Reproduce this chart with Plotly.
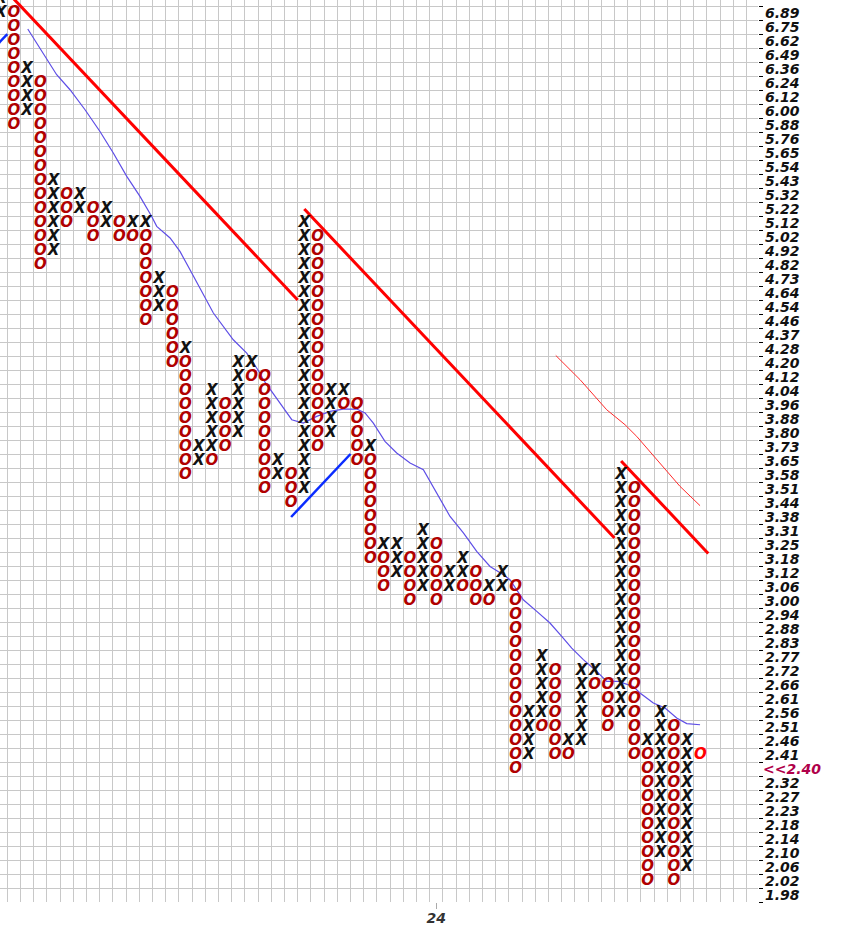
import plotly.graph_objects as go

# ---- price levels (2% boxes), level index 0 = 1.98 ----
price_labels = ["1.98", "2.02", "2.06", "2.10", "2.14", "2.18", "2.23", "2.27", "2.32", "2.36",
                "2.41", "2.46", "2.51", "2.56", "2.61", "2.66", "2.72", "2.77", "2.83", "2.88",
                "2.94", "3.00", "3.06", "3.12", "3.18", "3.25", "3.31", "3.38", "3.44", "3.51",
                "3.58", "3.65", "3.73", "3.80", "3.88", "3.96", "4.04", "4.12", "4.20", "4.28",
                "4.37", "4.46", "4.54", "4.64", "4.73", "4.82", "4.92", "5.02", "5.12", "5.22",
                "5.32", "5.43", "5.54", "5.65", "5.76", "5.88", "6.00", "6.12", "6.24", "6.36",
                "6.49", "6.62", "6.75", "6.89", "7.03"]
last_price_label = "<<2.40"
last_price_level = 9

# ---- columns: top level and boxes from top to bottom ----
col_top = [64, 63, 59, 58, 51, 50, 50, 49, 49, 48,
           48, 48, 44, 43, 39, 32, 36, 35, 38, 38,
           37, 31, 30, 48, 47, 36, 36, 35, 32, 25,
           25, 24, 26, 25, 23, 24, 23, 22, 23, 22,
           13, 17, 16, 11, 16, 16, 15, 30, 29, 11,
           13, 12, 11, 10]
col_boxes = ["XX", "OOOOOOOOO", "XXXX", "OOOOOOOOOOOOOO", "XXXXXX", "OOO", "XX", "OOO", "XX", "OO",
             "XO", "XOOOOOOO", "XXX", "OOOOOO", "XOOOOOOOOO", "XX", "XXXXXO", "OOOO", "XXXXXX", "XO",
             "OOOOOOOOO", "XX", "OOO", "XXXXXXXXXXXXXXXXXXXX", "OOOOOOOOOOOOOOOO", "XXXX", "XO", "OOOOO",
             "XOOOOOOOO", "XOOO",
             "XXX", "OOOO", "XXXXX", "OOOOO", "XX", "XXO", "OOO", "XO", "XX", "OOOOOOOOOOOOOO",
             "XXXX", "XXXXXO", "OOOOOOO", "XO", "XXXXXX", "XO", "OOOO", "XXXXXXXXXXXXXXXXXX",
             "OOOOOOOOOOOOOOOOOOOO", "XOOOOOOOOOO",
             "XXXXXXXXXXX", "OOOOOOOOOOOO", "XXXXXXXXXX", "O"]
date_tick_col = 33
date_tick_label = "24"

# ---- moving average (thin blue) ----
ma_x = [2.05, 2.73, 3.73, 4.24, 5.25, 6.39, 7.52, 8.53, 9.55, 10.55, 11.44, 11.82, 12.83, 13.58,
        14.34, 15.61, 16.11, 17.62, 18.64, 19.64, 19.89, 21.16, 22.05, 22.92, 23.94, 24.95, 25.95,
        26.97, 27.6, 28.23, 29.11, 30.0, 31.01, 32.02, 33.03, 34.04, 35.05, 36.06, 37.07, 38.08,
        38.58, 39.59, 40.61, 41.61, 42.5, 43.26, 44.14, 45.15, 45.91, 46.79, 47.92, 48.43, 49.44,
        50.33, 51.21, 51.97, 52.98]
ma_y = [61.86, 60.86, 59.43, 58.59, 57.52, 56.09, 54.54, 53.0, 51.33, 49.9, 48.47, 47.76, 46.93,
        45.97, 44.66, 42.52, 41.57, 39.66, 38.71, 37.29, 36.81, 35.14, 33.95, 33.71, 34.19, 34.54,
        34.71, 34.71, 34.43, 33.71, 32.4, 31.57, 30.86, 30.38, 28.71, 27.04, 25.86, 24.54, 23.47,
        22.88, 22.52, 21.09, 20.26, 19.43, 18.47, 17.64, 16.81, 15.97, 15.26, 15.26, 14.9, 14.43,
        13.71, 13.36, 12.64, 12.24, 12.16]

# ---- thin red band line ----
band_x = [42.05, 43.89, 45.91, 47.30, 48.18, 49.70, 51.46, 52.98]
band_y = [38.54, 36.81, 34.66, 33.59, 32.76, 31.09, 29.19, 27.81]

# ---- 45-degree trend lines (column, level) start/end ----
red_lines_x = [[-1.0, 22.5], [23.0, 46.5], [47.0, 53.6]]
red_lines_y = [[66.0, 42.5], [49.0, 25.5], [31.0, 24.4]]
blue_lines_x = [[-3.0, 0.5], [22.0, 26.5]]
blue_lines_y = [[58.0, 61.5], [27.0, 31.5]]

# ---- build glyph lists ----
xs_x, xs_y, os_x, os_y = [], [], [], []
for c, (top, boxes) in enumerate(zip(col_top, col_boxes)):
    if c == len(col_top) - 1:
        continue
    for i, ch in enumerate(boxes):
        lvl = top - i
        if ch == "X":
            xs_x.append(c); xs_y.append(lvl)
        else:
            os_x.append(c); os_y.append(lvl)
cur_x = [len(col_top) - 1]
cur_y = [col_top[-1]]

FONT = "DejaVu Sans"
fig = go.Figure()

for lx, ly in zip(red_lines_x, red_lines_y):
    fig.add_trace(go.Scatter(x=lx, y=ly, mode="lines", line=dict(color="#ff0000", width=3),
                             hoverinfo="skip"))
for lx, ly in zip(blue_lines_x, blue_lines_y):
    fig.add_trace(go.Scatter(x=lx, y=ly, mode="lines", line=dict(color="#0a2cff", width=2.5),
                             hoverinfo="skip"))
fig.add_trace(go.Scatter(x=band_x, y=band_y, mode="lines", line=dict(color="#ff2a2a", width=1),
                         hoverinfo="skip"))
fig.add_trace(go.Scatter(x=ma_x, y=ma_y, mode="lines", line=dict(color="#5e4ee6", width=1.2),
                         hoverinfo="skip"))

fig.add_trace(go.Scatter(x=xs_x, y=xs_y, mode="text", text=["X"] * len(xs_x),
                         textposition="middle center",
                         textfont=dict(family=FONT, size=15, color="#111111", style="italic",
                                       weight="bold")))
fig.add_trace(go.Scatter(x=os_x, y=os_y, mode="text", text=["O"] * len(os_x),
                         textposition="middle center",
                         textfont=dict(family=FONT, size=15, color="#b00000", style="italic",
                                       weight="bold")))
fig.add_trace(go.Scatter(x=cur_x, y=cur_y, mode="text", text=["O"],
                         textposition="middle center",
                         textfont=dict(family=FONT, size=15, color="#ff0000", style="italic",
                                       weight="bold")))

levels = list(range(len(price_labels)))
tick_vals = [k for k in levels if k != last_price_level]
tick_text = [price_labels[k] for k in tick_vals]

fig.update_layout(
    width=850, height=944,
    margin=dict(l=0, r=92, t=0, b=42, autoexpand=False),
    paper_bgcolor="white", plot_bgcolor="white",
    showlegend=False,
    xaxis=dict(range=[-0.053, 57.37], showgrid=False, zeroline=False,
               tickmode="array", tickvals=[date_tick_col], ticktext=[date_tick_label],
               ticks="outside", ticklen=6, tickcolor="#aaaaaa",
               tickfont=dict(family=FONT, size=14, color="#333333", style="italic", weight="bold"),
               ticklabelstandoff=-3,
               minor=dict(tickmode="array", tickvals=[c + 0.5 for c in range(-1, 58)],
                          showgrid=True, gridcolor="#c8c8c8", gridwidth=1, ticks=""),
               showline=False),
    yaxis=dict(range=[-0.5, 63.93], side="right", showgrid=False, zeroline=False,
               tickmode="array", tickvals=tick_vals, ticktext=tick_text, ticks="",
               tickfont=dict(family=FONT, size=14, color="#111111", style="italic", weight="bold"),
               minor=dict(tickmode="array", tickvals=[k + 0.5 for k in range(-1, 65)],
                          showgrid=True, gridcolor="#c8c8c8", gridwidth=1,
                          ticks="outside", ticklen=4, tickcolor="#000000"),
               showline=False, ticklabelstandoff=6),
    annotations=[
        dict(x=1, xref="paper", y=last_price_level, yref="y", text=last_price_label,
             showarrow=False, xanchor="left", xshift=3,
             font=dict(family=FONT, size=14, color="#b0004a", style="italic", weight="bold")),
        dict(x=1, xref="paper", y=len(price_labels) - 1, yref="y", text=price_labels[-1],
             showarrow=False, xanchor="left", xshift=7,
             font=dict(family=FONT, size=14, color="#111111", style="italic", weight="bold")),
    ],
)

fig.write_html("out.html", config={"displayModeBar": False},
               post_script="document.body.style.margin='0';")
